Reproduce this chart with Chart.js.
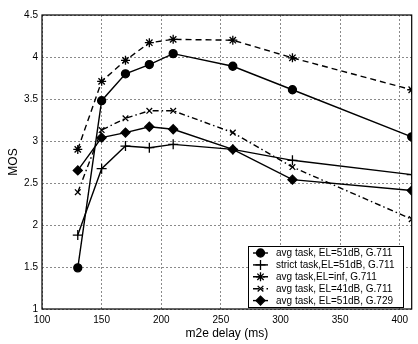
<!DOCTYPE html>
<html lang="en">
<head>
    <meta charset="UTF-8">
    <title>MOS vs m2e delay</title>
    <script src="https://cdn.jsdelivr.net/npm/chart.js"></script>
    <style>
        body {
            margin: 0;
            padding: 0;
            background-color: white;
        }
    </style>
</head>
<body>
    <canvas id="myChart" width="418" height="344"></canvas>

    <script>
        // data
        const delays = [130, 150, 170, 190, 210, 260, 310, 410];
        const avgEl51G711 = [1.49, 3.48, 3.80, 3.91, 4.04, 3.89, 3.61, 3.05];
        const strictEl51G711 = [1.88, 2.67, 2.94, 2.92, 2.96, 2.90, 2.77, 2.60];
        const avgElInfG711 = [2.90, 3.71, 3.96, 4.17, 4.21, 4.20, 3.99, 3.61];
        const avgEl41G711 = [2.39, 3.13, 3.27, 3.36, 3.36, 3.10, 2.69, 2.07];
        const avgEl51G729 = [2.65, 3.04, 3.10, 3.17, 3.14, 2.90, 2.54, 2.41];
        const seriesNames = [
            'avg task, EL=51dB, G.711',
            'strict task,EL=51dB, G.711',
            'avg task,EL=inf, G.711',
            'avg task, EL=41dB, G.711',
            'avg task, EL=51dB, G.729'
        ];
        const xTicks = [100, 150, 200, 250, 300, 350, 400];
        const yTicks = [1, 1.5, 2, 2.5, 3, 3.5, 4, 4.5];

        function toPoints(values) {
            return values.map((v, i) => ({ x: delays[i], y: v }));
        }

        const styles = [
            { pointStyle: 'circle', pointRadius: 4, dash: [] },
            { pointStyle: 'cross', pointRadius: 5, dash: [] },
            { pointStyle: 'star', pointRadius: 4.5, dash: [6, 4] },
            { pointStyle: 'crossRot', pointRadius: 4, dash: [6, 3, 1.5, 3] },
            { pointStyle: 'rectRot', pointRadius: 4.5, dash: [] }
        ];
        const allValues = [avgEl51G711, strictEl51G711, avgElInfG711, avgEl41G711, avgEl51G729];

        const datasets = allValues.map((vals, i) => ({
            label: seriesNames[i],
            data: toPoints(vals),
            borderColor: '#000',
            backgroundColor: '#000',
            borderWidth: 1.4,
            borderDash: styles[i].dash,
            pointStyle: styles[i].pointStyle,
            pointRadius: styles[i].pointRadius,
            pointBorderWidth: 1.3,
            pointBackgroundColor: '#000',
            pointBorderColor: '#000',
            tension: 0
        }));

        const frameAndLegend = {
            id: 'frameAndLegend',
            afterDraw(chart) {
                const ctx = chart.ctx;
                const a = chart.chartArea;
                ctx.save();
                ctx.strokeStyle = '#000';
                ctx.lineWidth = 1.2;
                ctx.setLineDash([]);
                ctx.strokeRect(a.left, a.top, a.right - a.left, a.bottom - a.top);

                // legend box
                const bx = 248, by = 246, bw = 155, bh = 61;
                ctx.fillStyle = '#fff';
                ctx.fillRect(bx, by, bw, bh);
                ctx.lineWidth = 1;
                ctx.strokeRect(bx + 0.5, by + 0.5, bw, bh);

                ctx.font = '10px "Liberation Sans", Arial, sans-serif';
                ctx.textBaseline = 'middle';
                ctx.textAlign = 'left';
                chart.data.datasets.forEach((ds, i) => {
                    const y = by + 7 + i * 11.9;
                    ctx.strokeStyle = '#000';
                    ctx.fillStyle = '#000';
                    ctx.lineWidth = 1.4;
                    ctx.setLineDash(ds.borderDash);
                    ctx.beginPath();
                    ctx.moveTo(bx + 5, y);
                    ctx.lineTo(bx + 20, y);
                    ctx.stroke();
                    ctx.setLineDash([]);
                    ctx.lineWidth = 1.3;
                    Chart.helpers.drawPoint(ctx, {
                        pointStyle: ds.pointStyle,
                        radius: ds.pointRadius,
                        borderWidth: 1.3,
                        rotation: 0
                    }, bx + 12.5, y);
                    ctx.fillStyle = '#000';
                    ctx.fillText(ds.label, bx + 28, y + 0.5);
                });
                ctx.restore();
            }
        };

        const fontFamily = '"Liberation Sans", Arial, sans-serif';
        const gridColor = '#8a8a8a';

        const ctx = document.getElementById('myChart').getContext('2d');
        const chart = new Chart(ctx, {
            type: 'line',
            data: { datasets: datasets },
            plugins: [frameAndLegend],
            options: {
                responsive: false,
                animation: false,
                devicePixelRatio: 1,
                layout: { padding: { top: 15, right: 2, left: 0, bottom: 0 } },
                plugins: {
                    legend: { display: false },
                    tooltip: { enabled: false }
                },
                scales: {
                    x: {
                        type: 'linear',
                        min: 100,
                        max: 410,
                        afterFit(scale) { scale.height = 35; },
                        afterBuildTicks(scale) {
                            scale.ticks = xTicks.map(v => ({ value: v }));
                        },
                        grid: {
                            display: true,
                            color: gridColor,
                            lineWidth: 1,
                            drawTicks: false
                        },
                        border: { display: false, dash: [2, 2] },
                        ticks: {
                            color: '#000',
                            padding: 5,
                            maxRotation: 0,
                            callback: v => String(v),
                            font: { family: fontFamily, size: 10 }
                        },
                        title: {
                            display: true,
                            text: 'm2e delay (ms)',
                            color: '#000',
                            padding: { top: 0, bottom: 3 },
                            font: { family: fontFamily, size: 12 }
                        }
                    },
                    y: {
                        min: 1,
                        max: 4.5,
                        afterFit(scale) { scale.width = 42; },
                        afterBuildTicks(scale) {
                            scale.ticks = yTicks.map(v => ({ value: v }));
                        },
                        grid: {
                            display: true,
                            color: gridColor,
                            lineWidth: 1,
                            drawTicks: false
                        },
                        border: { display: false, dash: [2, 2] },
                        ticks: {
                            color: '#000',
                            padding: 4,
                            callback: v => String(v),
                            font: { family: fontFamily, size: 10 }
                        },
                        title: {
                            display: true,
                            text: 'MOS',
                            color: '#000',
                            padding: { top: 6, bottom: 0 },
                            font: { family: fontFamily, size: 12 }
                        }
                    }
                }
            }
        });
    </script>
</body>
</html>
